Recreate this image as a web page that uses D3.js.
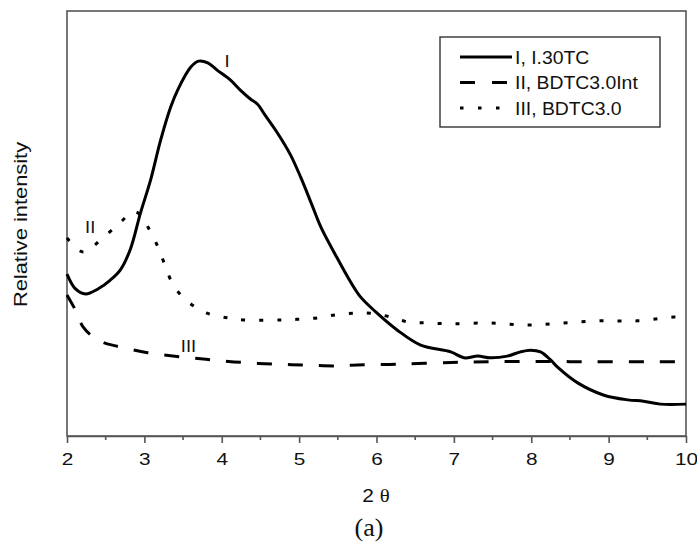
<!DOCTYPE html>
<html>
<head>
<meta charset="utf-8">
<script src="https://cdn.jsdelivr.net/npm/d3@7"></script>
<style>
  html, body { margin: 0; padding: 0; background: #fff; }
  svg { display: block; font-family: "Liberation Sans", Arial, sans-serif; }
</style>
</head>
<body>
<svg id="chart" width="697" height="550"></svg>
<script>
// Small-angle XRD patterns, relative intensity vs 2θ
const thetaI = [2.0, 2.11, 2.24, 2.40, 2.56, 2.69, 2.82, 2.95, 3.08, 3.21, 3.34, 3.43, 3.60, 3.70, 3.82, 3.94,
  4.11, 4.24, 4.37, 4.46, 4.56, 4.72, 4.89, 5.02, 5.15, 5.28, 5.47, 5.66, 5.79, 5.99, 6.27, 6.57,
  6.96, 7.13, 7.31, 7.47, 7.69, 7.86, 7.99, 8.12, 8.25, 8.34, 8.60, 8.94, 9.25, 9.45, 9.67, 10.0];
const intensityI = [38.1, 34.6, 33.4, 34.6, 36.7, 39.1, 44.0, 52.5, 60.2, 69.6, 77.4, 81.4, 86.8, 88.2, 87.8, 86.1,
  83.8, 81.4, 79.3, 78.1, 75.5, 71.3, 66.1, 60.9, 55.1, 49.2, 42.6, 36.4, 32.8, 29.2, 24.9, 21.4,
  19.8, 18.4, 18.8, 18.4, 18.8, 19.8, 20.2, 19.8, 17.9, 16.2, 12.5, 9.6, 8.5, 8.2, 7.5, 7.5];

const thetaII = [2.0, 2.11, 2.21, 2.34, 2.47, 2.63, 3.04, 3.48, 3.88, 4.27, 4.69, 5.07, 5.47, 5.75, 6.31, 6.96, 7.5, 8.5, 10.0];
const intensityII = [33.2, 29.6, 25.6, 23.3, 22.0, 21.2, 19.6, 18.6, 17.9, 17.3, 16.9, 16.7, 16.5, 16.7, 16.9, 17.3, 17.5, 17.5, 17.5];

const thetaIII = [2.0, 2.21, 2.46, 2.68, 2.86, 2.95, 3.06, 3.17, 3.26, 3.38, 3.57, 3.81, 4.07, 4.28, 4.76, 5.02,
  5.24, 5.47, 5.70, 5.92, 6.18, 6.41, 6.66, 6.99, 7.47, 7.95, 8.42, 8.90, 9.37, 9.84, 9.9];
const intensityIII = [46.6, 43.3, 46.6, 50.1, 52.8, 52.0, 48.7, 44.7, 40.5, 35.3, 31.5, 28.9, 27.8, 27.3, 27.3, 27.5,
  27.8, 28.5, 28.9, 28.9, 28.0, 26.8, 26.6, 26.4, 26.6, 26.1, 26.6, 27.1, 27.1, 28.0, 28.0];

const xTicks = [2, 3, 4, 5, 6, 7, 8, 9, 10];
const xMinorTicks = [2.5, 3.5, 4.5, 5.5, 6.5, 7.5, 8.5, 9.5];
const seriesNames = ["I, I.30TC", "II, BDTC3.0Int", "III, BDTC3.0"];
const seriesDash = [null, "15,16", "4,14"];
const curveLabels = [
  { text: "I", x: 4.07, y: 88.2 },
  { text: "II", x: 2.30, y: 49.0 },
  { text: "III", x: 3.57, y: 21.0 }
];

const svg = d3.select("#chart");
const plotLeft = 67, plotRight = 686, plotTop = 11, plotBottom = 436;

const x = d3.scaleLinear().domain([2, 10]).range([plotLeft, plotRight]);
const y = d3.scaleLinear().domain([0, 100]).range([plotBottom, plotTop]);

const axisColor = "#555";
const textColor = "#111";

// frame
svg.append("rect")
  .attr("x", plotLeft).attr("y", plotTop)
  .attr("width", plotRight - plotLeft).attr("height", plotBottom - plotTop)
  .attr("fill", "none").attr("stroke", axisColor).attr("stroke-width", 1.6);

// bottom axis, major ticks
const gx = svg.append("g").attr("transform", `translate(0,${plotBottom})`)
  .call(d3.axisBottom(x).tickValues(xTicks).tickFormat(d3.format("d")).tickSizeInner(7).tickSizeOuter(0).tickPadding(11));
gx.select(".domain").attr("stroke", axisColor).attr("stroke-width", 1.6);
gx.selectAll(".tick line").attr("stroke", axisColor).attr("stroke-width", 1.6);
gx.selectAll(".tick text").attr("fill", textColor).style("font-size", "16px")
  .style("font-family", "'Liberation Sans', Arial, sans-serif")
  .attr("transform", "scale(1.3,1)");

// minor ticks
svg.append("g").selectAll("line").data(xMinorTicks).join("line")
  .attr("x1", d => x(d)).attr("x2", d => x(d))
  .attr("y1", plotBottom).attr("y2", plotBottom + 4)
  .attr("stroke", axisColor).attr("stroke-width", 1.6);

// curves
const series = [
  { xs: thetaI, ys: intensityI },
  { xs: thetaII, ys: intensityII },
  { xs: thetaIII, ys: intensityIII }
];
const line = d3.line().x(d => x(d[0])).y(d => y(d[1])).curve(d3.curveCatmullRom.alpha(0.5));

series.forEach((s, i) => {
  const pts = s.xs.map((v, k) => [v, s.ys[k]]);
  svg.append("path")
    .attr("d", line(pts))
    .attr("fill", "none")
    .attr("stroke", "#000")
    .attr("stroke-width", 3)
    .attr("stroke-dasharray", seriesDash[i]);
});

// curve labels
svg.append("g").selectAll("text").data(curveLabels).join("text")
  .attr("transform", d => `translate(${x(d.x)},${y(d.y)}) scale(1.15,1)`)
  .attr("text-anchor", "middle").attr("dy", "0.35em")
  .style("font-size", "16px").attr("fill", textColor)
  .text(d => d.text);

// legend
const lg = svg.append("g");
lg.append("rect").attr("x", 440).attr("y", 37).attr("width", 220).attr("height", 90)
  .attr("fill", "#fff").attr("stroke", "#333").attr("stroke-width", 1.4);
seriesNames.forEach((name, i) => {
  const cy = 57 + i * 25.5;
  lg.append("line").attr("x1", 460).attr("x2", 512).attr("y1", cy).attr("y2", cy)
    .attr("stroke", "#000").attr("stroke-width", 3)
    .attr("stroke-dasharray", i === 0 ? null : (i === 1 ? "15,17" : "3.5,14.5"));
  lg.append("text")
    .attr("transform", `translate(515,${cy}) scale(1.02,1)`)
    .attr("dy", "0.36em")
    .style("font-size", "19px").attr("fill", textColor).text(name);
});

// axis titles
svg.append("text")
  .attr("transform", `translate(26.5,${(plotTop + plotBottom) / 2 + 1}) rotate(-90) scale(1.15,1)`)
  .attr("text-anchor", "middle")
  .style("font-size", "19px").attr("fill", textColor)
  .text("Relative intensity");

const xt = svg.append("text").attr("transform", "translate(376,502) scale(1.1,1)").attr("text-anchor", "middle")
  .attr("fill", textColor).style("font-size", "19px");
xt.append("tspan").text("2 ");
xt.append("tspan").style("font-family", "'Liberation Serif', 'Times New Roman', serif").text("θ");

svg.append("text").attr("x", 369).attr("y", 536).attr("text-anchor", "middle")
  .style("font-family", "'Liberation Serif', 'Times New Roman', serif")
  .style("font-size", "26px").attr("fill", textColor)
  .text("(a)");
</script>
</body>
</html>
